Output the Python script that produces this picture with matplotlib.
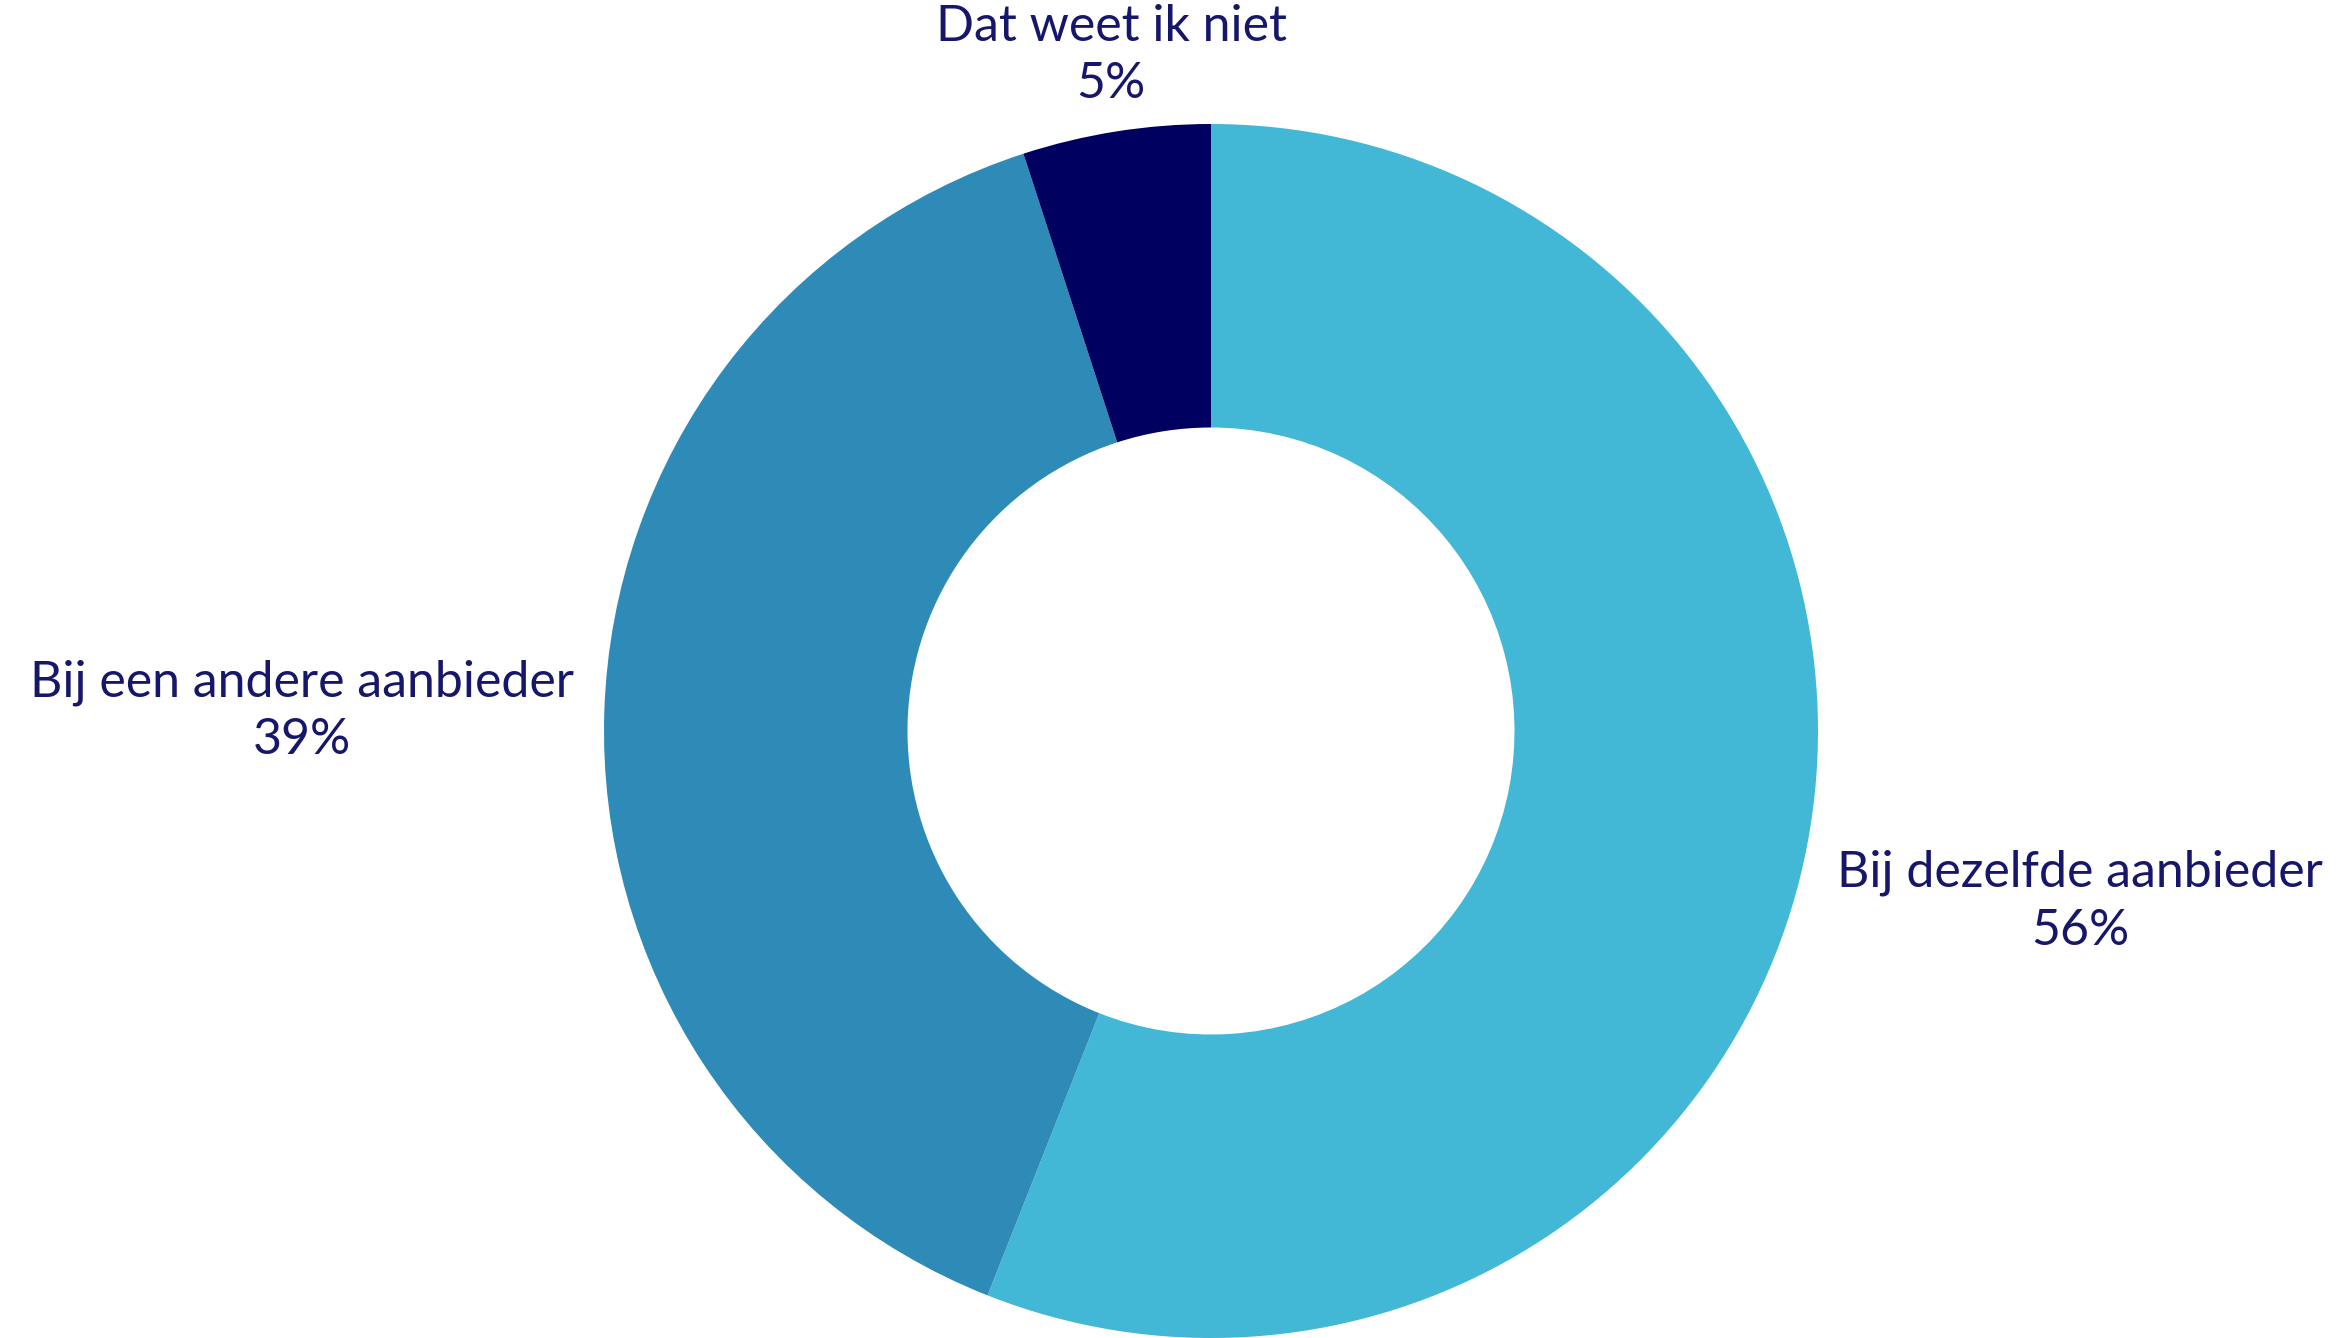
import numpy as np
import matplotlib.pyplot as plt

# donut: share of respondents per answer
labels = ["Bij dezelfde aanbieder", "Bij een andere aanbieder", "Dat weet ik niet"]
values = [56, 39, 5]
colors = ["#42B7D6", "#2E8BB8", "#000060"]
text_color = "#16166B"

W, H = 2339, 1338
fig = plt.figure(figsize=(W / 100, H / 100), dpi=100)
ax = fig.add_axes([0, 0, 1, 1])

cx, cy, R = 1211, H - 731, 607
wedges, _ = ax.pie(values, colors=colors, startangle=90, counterclock=False,
                   center=(cx, cy), radius=R,
                   wedgeprops=dict(width=R * 0.5, linewidth=0))

# labels at the middle angle of each wedge, just outside the ring
for w, lab, v in zip(wedges, labels, values):
    ang = np.deg2rad((w.theta1 + w.theta2) / 2)
    c, s = np.cos(ang), np.sin(ang)
    x, y = cx + 1.05 * R * c, cy + 1.04 * R * s
    ha = "left" if c > 0.3 else ("right" if c < -0.3 else "center")
    va = "top" if s < -0.1 else ("bottom" if s > 0.1 else "center")
    ax.text(x, y, f"{lab}\n{v}%", ha=ha, va=va, multialignment="center",
            fontsize=36, family="Lato", color=text_color, linespacing=1.32)

ax.set_xlim(0, W)
ax.set_ylim(0, H)
ax.set_aspect("equal")
ax.axis("off")
fig.savefig("out.png", dpi=100)
